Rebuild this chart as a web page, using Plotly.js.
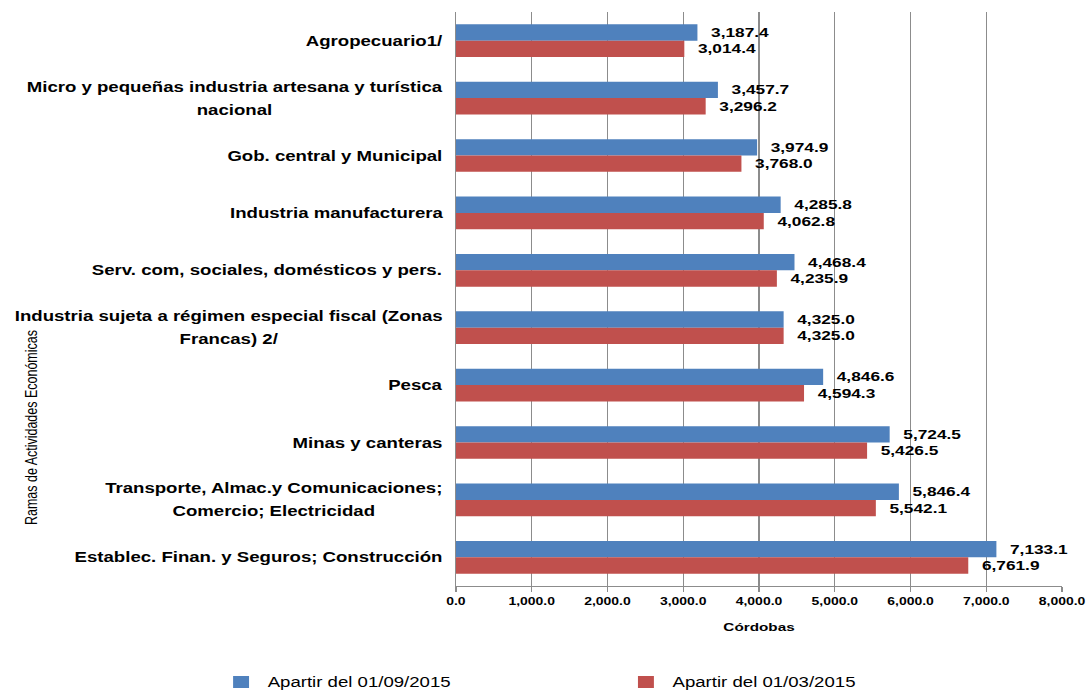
<!DOCTYPE html>
<html>
<head>
<meta charset="utf-8">
<script src="https://cdn.plot.ly/plotly-3.0.1.min.js"></script>
<style>
  html, body { margin: 0; padding: 0; background: #ffffff; overflow: hidden; }
  #chart { width: 817px; height: 691px; transform-origin: 0 0; }
</style>
</head>
<body>
<div id="chart"></div>
<script>
// Categories, top to bottom
const categories = [
  "Agropecuario1/",
  "Micro y pequeñas industria artesana y turística nacional",
  "Gob. central y Municipal",
  "Industria manufacturera",
  "Serv. com, sociales, domésticos y pers.",
  "Industria sujeta a régimen especial fiscal (Zonas Francas) 2/",
  "Pesca",
  "Minas y canteras",
  "Transporte, Almac.y Comunicaciones; Comercio; Electricidad",
  "Establec. Finan. y Seguros; Construcción"
];
const categoryLabels = [
  "Agropecuario1/",
  "Micro y pequeñas industria artesana y turística<br>nacional",
  "Gob. central y Municipal",
  "Industria manufacturera",
  "Serv. com, sociales, domésticos y pers.",
  "Industria sujeta a régimen especial fiscal (Zonas<br>Francas) 2/",
  "Pesca",
  "Minas y canteras",
  "Transporte, Almac.y Comunicaciones;<br>Comercio; Electricidad",
  "Establec. Finan. y Seguros; Construcción"
];
const seriesNames = ["Apartir del 01/09/2015", "Apartir del 01/03/2015"];
const valuesSep2015 = [3187.4, 3457.7, 3974.9, 4285.8, 4468.4, 4325.0, 4846.6, 5724.5, 5846.4, 7133.1];
const valuesMar2015 = [3014.4, 3296.2, 3768.0, 4062.8, 4235.9, 4325.0, 4594.3, 5426.5, 5542.1, 6761.9];
const xTickValues = [0, 1000, 2000, 3000, 4000, 5000, 6000, 7000, 8000];
const xTitle = "Córdobas";
const yTitle = "Ramas de Actividades Económicas";

const FONT = '"Liberation Sans", Arial, sans-serif';
const STRETCH = 1086 / 817;

const labelFont = {family: FONT, size: 13, color: '#000000', weight: 'bold'};

const traces = [
  {
    type: 'bar', orientation: 'h', name: seriesNames[0],
    y: categories, x: valuesSep2015,
    marker: {color: '#4F81BD'},
    texttemplate: '\u00a0\u00a0%{x:,.1f}', textposition: 'outside',
    textfont: labelFont, constraintext: 'none', cliponaxis: false,
    legend: 'legend'
  },
  {
    type: 'bar', orientation: 'h', name: seriesNames[1],
    y: categories, x: valuesMar2015,
    marker: {color: '#C0504D'},
    texttemplate: '\u00a0\u00a0%{x:,.1f}', textposition: 'outside',
    textfont: labelFont, constraintext: 'none', cliponaxis: false,
    legend: 'legend2'
  }
];

// wider line spacing: larger base font, visible text set per line
const wrapLines = (s) => s.split('<br>')
  .map(line => "<span style='font-size:14px'>" + line + "</span>").join('<br>');

const annotations = categories.map((c, i) => ({
  xref: 'paper', yref: 'y', x: 0, y: c,
  xanchor: 'right', yanchor: 'middle', xshift: -8,
  text: wrapLines(categoryLabels[i]), align: 'center', showarrow: false,
  font: {family: FONT, size: 18, color: '#000000', weight: 'bold'}
}));
annotations.push({
  xref: 'paper', yref: 'paper', x: 0, y: 0.275,
  xanchor: 'center', yanchor: 'middle', xshift: -319,
  text: yTitle, textangle: -90, showarrow: false,
  font: {family: FONT, size: 12.5, color: '#000000'}
});

const legendBase = {
  orientation: 'h', xref: 'container', yref: 'container', xanchor: 'left',
  y: 0.0125, yanchor: 'middle', itemwidth: 30,
  bgcolor: 'rgba(0,0,0,0)',
  font: {family: FONT, size: 14, color: '#000000'}
};

const layout = {
  width: 817, height: 691,
  margin: {l: 343, r: 18, t: 12, b: 105, autoexpand: false},
  paper_bgcolor: '#ffffff', plot_bgcolor: '#ffffff',
  barmode: 'group', bargap: 0.43, bargroupgap: 0,
  font: {family: FONT, color: '#000000'},
  showlegend: true,
  legend: Object.assign({}, legendBase, {x: 0.1975}),
  legend2: Object.assign({}, legendBase, {x: 0.5703}),
  xaxis: {
    range: [0, 8000], tickvals: xTickValues, tickformat: ',.1f',
    showgrid: true, gridcolor: '#8c8c8c', gridwidth: 1,
    showline: true, linecolor: '#8c8c8c', linewidth: 1,
    ticks: 'outside', ticklen: 5, tickcolor: '#8c8c8c',
    tickfont: {family: FONT, size: 10.5, color: '#000000', weight: 'bold'},
    zeroline: false, fixedrange: true, automargin: false,
    title: {text: xTitle, standoff: 17, font: {family: FONT, size: 11.5, color: '#000000', weight: 'bold'}}
  },
  yaxis: {
    type: 'category', autorange: 'reversed',
    showticklabels: false, showgrid: false, zeroline: false,
    showline: true, linecolor: '#8c8c8c', linewidth: 1, ticks: '',
    fixedrange: true, automargin: false
  },
  annotations: annotations
};

const gd = document.getElementById('chart');
Plotly.newPlot(gd, traces, layout, {displayModeBar: false, staticPlot: true}).then(() => {
  gd.style.transform = 'scaleX(' + STRETCH + ')';
});
</script>
</body>
</html>
